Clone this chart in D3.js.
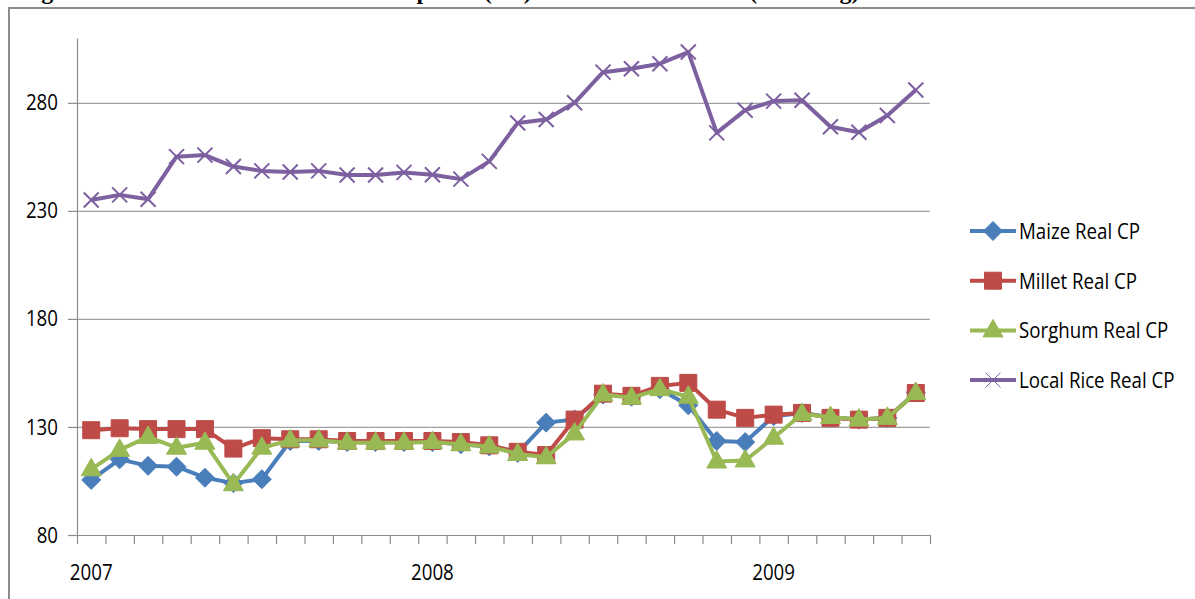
<!DOCTYPE html>
<html>
<head>
<meta charset="utf-8">
<script src="https://cdn.jsdelivr.net/npm/d3@7"></script>
<style>
  body { margin: 0; background: #fff; }
  svg { display: block; }
</style>
</head>
<body>
<div id="chart"></div>
<script>
// month categories, Jan 2007 .. Jun 2009
const months = ["Jan-07","Feb-07","Mar-07","Apr-07","May-07","Jun-07","Jul-07","Aug-07","Sep-07","Oct-07","Nov-07","Dec-07",
                "Jan-08","Feb-08","Mar-08","Apr-08","May-08","Jun-08","Jul-08","Aug-08","Sep-08","Oct-08","Nov-08","Dec-08",
                "Jan-09","Feb-09","Mar-09","Apr-09","May-09","Jun-09"];
const yearLabels = [{i: 0, t: "2007"}, {i: 12, t: "2008"}, {i: 24, t: "2009"}];
const yTicks = [80, 130, 180, 230, 280];

const maize = [105.5,115,112,111.6,106.5,104,105.8,123.5,123.5,123,123,123,123,122,121,118,132,133.5,145,144,147.5,140,123.5,123,135,136.5,134.5,133.4,134.2,146];
const millet = [128.5,129.4,129,129,129,120,124.8,124.3,124.3,123.5,123.5,123.5,123.5,123,121.5,118.5,117,133.4,145.4,144.4,149,150.4,138,134.2,135.7,136.5,134.2,133.4,134.2,145.7];
const sorghum = [110.4,119.4,125.4,120.4,122.7,103.5,120.4,123.8,123.8,122.7,122.7,122.7,123,122,121,117.5,116,127,145,143.5,147.5,144,114,114.5,125,136,134.6,133.4,134.2,145.7];
const rice = [235,237.4,235.4,255.1,255.8,250.5,248.5,248,248.5,246.6,246.6,247.8,246.7,244.7,252.9,270.7,272.3,280,294.2,295.8,298.1,303.5,266.1,276.6,280.8,281.2,268.9,266.4,274.1,285.9];

const seriesNames = ["Maize Real CP", "Millet Real CP", "Sorghum Real CP", "Local Rice Real CP"];
const seriesData = [maize, millet, sorghum, rice];
const colors = ["#4a7ebb", "#be4b48", "#98b954", "#7d60a0"];
const markers = ["diamond", "square", "triangle", "x"];

let width = 1195, height = 599,
    margin = ({ top: 38, right: 265, bottom: 64, left: 77 });

const svg = d3.select("#chart")
  .append("svg")
  .attr("width", width)
  .attr("height", height);

// caption of the page, cut off at the very top
svg.append("text")
  .attr("x", 20).attr("y", -1)
  .attr("font-family", "Liberation Serif, Times New Roman, serif")
  .attr("font-weight", "bold")
  .attr("font-size", 24)
  .text("Figure 5: Evolution of Real Consumer prices (CP) of cereals in Maradi (FCFA/kg)");

// chart frame
svg.append("rect")
  .attr("x", 9).attr("y", 8)
  .attr("width", width).attr("height", height)
  .attr("fill", "none")
  .attr("stroke", "#8c8c8c")
  .attr("stroke-width", 2);

let x = d3.scaleLinear() // category slots 0..30
  .domain([0, months.length])
  .range([margin.left, width - margin.right]);

let y = d3.scaleLinear()
  .domain([80, 310])
  .range([height - margin.bottom, margin.top]);

const font = "Open Sans, sans-serif";
const squeeze = 0.85; // narrow the glyphs a little, like Calibri

// gridlines
svg.append("g")
  .attr("transform", `translate(${margin.left},0)`)
  .call(d3.axisLeft(y).tickValues(yTicks.slice(1)).tickSize(-(width - margin.left - margin.right)).tickFormat(""))
  .call(g => g.select(".domain").remove())
  .call(g => g.selectAll("line").attr("stroke", "#a0a0a0").attr("stroke-width", 1.2));

// y axis
svg.append("g")
  .attr("transform", `translate(${margin.left},0)`)
  .call(d3.axisLeft(y).tickValues(yTicks).tickSize(9).tickSizeOuter(0).tickPadding(9))
  .call(g => g.select(".domain").attr("stroke", "#8c8c8c").attr("stroke-width", 1.2))
  .call(g => g.selectAll("line").attr("stroke", "#8c8c8c").attr("stroke-width", 1.2))
  .call(g => g.selectAll("text").attr("font-family", font).attr("font-size", 22).attr("fill", "#000")
    .attr("x", -19 / squeeze)
    .attr("transform", `scale(${squeeze},1)`));

// x axis with ticks on category boundaries
svg.append("g")
  .attr("transform", `translate(0,${height - margin.bottom})`)
  .call(d3.axisBottom(x).tickValues(d3.range(0, months.length + 1)).tickSize(9).tickSizeOuter(0).tickFormat(""))
  .call(g => g.select(".domain").attr("stroke", "#8c8c8c").attr("stroke-width", 1.2))
  .call(g => g.selectAll("line").attr("stroke", "#8c8c8c").attr("stroke-width", 1.2));

svg.append("g")
  .selectAll("text")
  .data(yearLabels)
  .join("text")
  .attr("transform", d => `translate(${x(d.i + 0.5)},${height - margin.bottom + 45}) scale(${squeeze},1)`)
  .attr("text-anchor", "middle")
  .attr("font-family", font)
  .attr("font-size", 22)
  .text(d => d.t);

function markerPath(kind) {
  if (kind === "diamond") return "M0,-9.5L9.5,0L0,9.5L-9.5,0Z";
  if (kind === "square") return "M-8.5,-8.5H8.5V8.5H-8.5Z";
  if (kind === "triangle") return "M0,-11L10,6.5L-10,6.5Z";
  return "M-7.5,-7.5L7.5,7.5M-7.5,7.5L7.5,-7.5";
}

const line = d3.line()
  .x((d, i) => x(i + 0.5))
  .y(d => y(d));

seriesData.forEach((vals, s) => {
  const g = svg.append("g");
  g.append("path")
    .datum(vals)
    .attr("fill", "none")
    .attr("stroke", colors[s])
    .attr("stroke-width", 4)
    .attr("stroke-linejoin", "round")
    .attr("d", line);
  g.selectAll("path.mk")
    .data(vals)
    .join("path")
    .attr("class", "mk")
    .attr("transform", (d, i) => `translate(${x(i + 0.5)},${y(d)})`)
    .attr("d", markerPath(markers[s]))
    .attr("fill", markers[s] === "x" ? "none" : colors[s])
    .attr("stroke", colors[s])
    .attr("stroke-width", markers[s] === "x" ? 2 : 1);
});

// legend
const legend = svg.append("g")
  .selectAll("g")
  .data(seriesNames)
  .join("g")
  .attr("transform", (d, i) => `translate(970,${231 + i * 49.7})`);

legend.append("line")
  .attr("x1", 0).attr("x2", 46)
  .attr("stroke", (d, i) => colors[i])
  .attr("stroke-width", 4);

legend.append("path")
  .attr("transform", "translate(23,0)")
  .attr("d", (d, i) => markerPath(markers[i]))
  .attr("fill", (d, i) => markers[i] === "x" ? "none" : colors[i])
  .attr("stroke", (d, i) => colors[i])
  .attr("stroke-width", 1);

legend.append("text")
  .attr("transform", `translate(49,8) scale(${squeeze},1)`)
  .attr("font-family", font)
  .attr("font-size", 22)
  .text(d => d);
</script>
</body>
</html>
